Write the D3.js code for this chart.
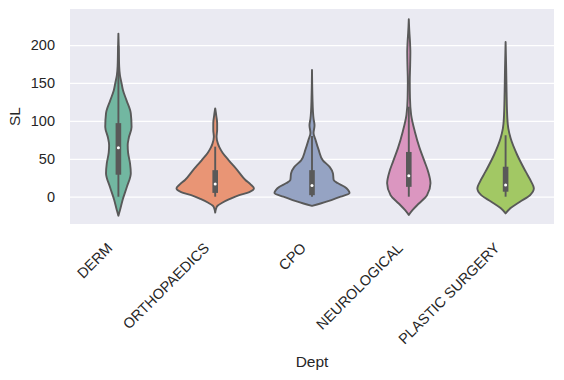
<!DOCTYPE html>
<html>
<head>
<meta charset="utf-8">
<script src="https://cdnjs.cloudflare.com/ajax/libs/d3/7.8.5/d3.min.js"></script>
<style>
  body { margin: 0; background: #fff; }
  text { font-family: "Liberation Sans", Arial, sans-serif; fill: #262626; }
</style>
</head>
<body>
<script>
// categories and colours (Set2, desaturated like seaborn)
var depts = ["DERM", "ORTHOPAEDICS", "CPO", "NEUROLOGICAL", "PLASTIC SURGERY"];
var colors = ["#72b7a1", "#e99575", "#95a3c3", "#db96c0", "#a2c864"];
var yTicks = [0, 50, 100, 150, 200];

// violin outlines: [SL, relative density]
var dermDensity = [[-25, 0], [-18, 0.04], [-4, 0.11], [13, 0.22], [31, 0.32], [44, 0.30], [58, 0.25],
                   [68, 0.24], [78, 0.27], [92, 0.34], [110, 0.32], [127, 0.21], [140, 0.12], [150, 0.08],
                   [160, 0.04], [172, 0.02], [195, 0.01], [215, 0]];
var orthoDensity = [[-21, 0], [-16, 0.02], [-12, 0.06], [-8, 0.18], [-3, 0.38], [2, 0.62], [6, 0.88],
                    [11, 1.0], [16, 0.92], [22, 0.78], [35, 0.57], [48, 0.35], [58, 0.19], [65, 0.11],
                    [70, 0.07], [79, 0.035], [88, 0.05], [97, 0.05], [106, 0.03], [116.5, 0]];
var cpoDensity = [[-12, 0], [-9, 0.22], [-4.4, 0.5], [0, 0.74], [5, 0.97], [9, 0.93], [13, 0.84],
                  [18, 0.66], [22, 0.56], [31, 0.54], [39, 0.46], [48, 0.28], [62, 0.17], [75, 0.09],
                  [84, 0.04], [94, 0.065], [103, 0.04], [112, 0.025], [130, 0.012], [167, 0]];
var neuroDensity = [[-24, 0], [-17.5, 0.1], [-9, 0.26], [2, 0.47], [17.6, 0.56], [33, 0.5], [46, 0.41],
                    [64, 0.28], [86, 0.155], [108, 0.06], [130, 0.03], [152, 0.025], [174, 0.035],
                    [190, 0.04], [205, 0.03], [217, 0.015], [234, 0]];
var plasticDensity = [[-22, 0], [-15, 0.13], [-6.6, 0.37], [2, 0.63], [11, 0.73], [20, 0.66], [33, 0.52],
                      [55, 0.3], [77, 0.13], [90, 0.07], [103, 0.045], [138, 0.025], [169, 0.015], [204, 0]];
var densities = [dermDensity, orthoDensity, cpoDensity, neuroDensity, plasticDensity];

// inner box stats
var q1 = [29, 5, 2, 13, 6.6];
var median = [64.6, 16.7, 14.8, 27.7, 15.4];
var q3 = [97, 35, 35, 59, 39.5];
var whiskLow = [0, 0, 0, 0, 0];
var whiskHigh = [199, 66, 80, 118.7, 81];

var margin = {top: 9, right: 10, bottom: 156, left: 70},
    width = 564 - margin.left - margin.right,
    height = 380 - margin.top - margin.bottom,
    gray = "#595959";

var x = d3.scaleBand().domain(depts).range([0, width]).padding(0);
var y = d3.scaleLinear().domain([-36, 247.5]).range([height, 0]);
var w = d3.scaleLinear().domain([0, 1]).range([0, x.bandwidth() * 0.4]);

var svg = d3.select("body").append("svg")
    .attr("width", width + margin.left + margin.right)
    .attr("height", height + margin.top + margin.bottom)
  .append("g")
    .attr("transform", "translate(" + margin.left + "," + margin.top + ")");

svg.append("rect")
    .attr("width", width)
    .attr("height", height)
    .attr("fill", "#eaeaf2");

// grid
var grid = svg.append("g")
    .call(d3.axisLeft(y).tickValues(yTicks).tickSize(-width).tickFormat(""));
grid.select(".domain").remove();
grid.selectAll("line").attr("stroke", "#fff").attr("stroke-width", 1.25);

// y axis
var yAxis = svg.append("g")
    .call(d3.axisLeft(y).tickValues(yTicks).tickSize(0).tickPadding(15));
yAxis.select(".domain").remove();
yAxis.selectAll("text").style("font-size", "14.5px").attr("fill", "#262626");

// x axis
var xAxis = svg.append("g")
    .attr("transform", "translate(0," + height + ")")
    .call(d3.axisBottom(x).tickSize(0));
xAxis.select(".domain").remove();
xAxis.selectAll("text")
    .attr("x", 0).attr("y", 0).attr("dy", 0)
    .attr("text-anchor", "end")
    .attr("transform", "translate(-5,25) rotate(-45)")
    .style("font-size", "14.5px")
    .attr("fill", "#262626");

// violins
var violins = svg.selectAll(".violin")
    .data(depts)
    .enter().append("g")
    .attr("class", "violin")
    .attr("transform", function(d) { return "translate(" + (x(d) + x.bandwidth() / 2) + ",0)"; });

violins.append("path")
    .attr("d", function(d, i) {
      return d3.area()
          .curve(d3.curveMonotoneY)
          .y(function(p) { return y(p[0]); })
          .x0(function(p) { return -w(p[1]); })
          .x1(function(p) { return w(p[1]); })(densities[i]);
    })
    .attr("fill", function(d, i) { return colors[i]; })
    .attr("stroke", gray)
    .attr("stroke-width", 1.9)
    .attr("stroke-linejoin", "round");

violins.append("line")
    .attr("y1", function(d, i) { return y(whiskLow[i]); })
    .attr("y2", function(d, i) { return y(whiskHigh[i]); })
    .attr("stroke", gray)
    .attr("stroke-width", 1.9);

violins.append("line")
    .attr("y1", function(d, i) { return y(q1[i]); })
    .attr("y2", function(d, i) { return y(q3[i]); })
    .attr("stroke", gray)
    .attr("stroke-width", 5.6);

violins.append("circle")
    .attr("cy", function(d, i) { return y(median[i]); })
    .attr("r", 1.5)
    .attr("fill", "#fff");

// axis labels
svg.append("text")
    .attr("transform", "translate(" + (19.5 - margin.left) + "," + (height / 2) + ") rotate(-90)")
    .attr("text-anchor", "middle")
    .style("font-size", "15.5px")
    .text("SL");

svg.append("text")
    .attr("x", width / 2)
    .attr("y", 367 - margin.top)
    .attr("text-anchor", "middle")
    .style("font-size", "15.5px")
    .text("Dept");
</script>
</body>
</html>
